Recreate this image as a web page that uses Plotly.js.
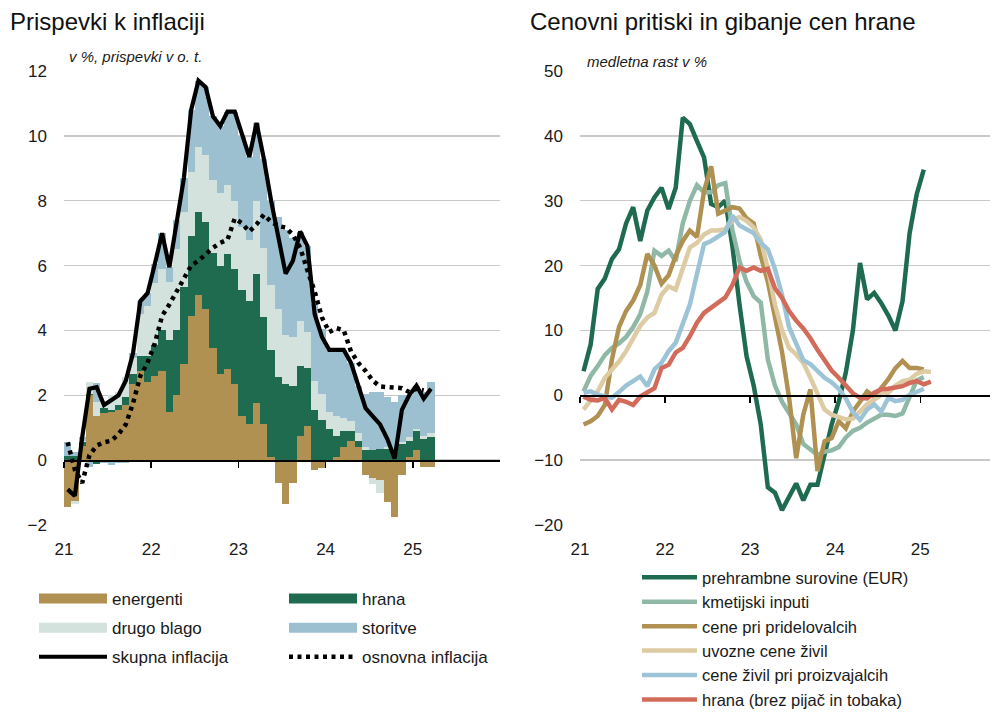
<!DOCTYPE html>
<html><head><meta charset="utf-8">
<script src="https://cdn.plot.ly/plotly-3.0.1.min.js"></script>
<style>html,body{margin:0;padding:0;background:#fff}#chart{width:995px;height:713px}</style>
</head><body><div id="chart"></div>
<script>
// ---------- DATA: left panel (contributions, monthly Jan 2021 - Mar 2025) ----------
const startLeft = '2021-01';
const energenti = [-1.45,-1.25,0.45,2.0,1.35,1.45,1.5,1.55,1.7,2.35, 2.75,2.4,2.6,2.75,1.5,2.0,2.95,4.45,5.1,4.65, 3.45,2.65,2.8,2.35,1.35,1.1,1.75,1.1,0.1,-0.7, -1.35,-0.7,0.75,1.05,-0.3,-0.25,0.0,0.1,0.4,0.6, 0.4,-0.45,-0.55,-0.6,-1.3,-1.75,-0.45,0.1,0.3,-0.2, -0.2];
const hrana = [0.12,0.12,0.1,0.05,-0.12,0.15,0.05,0.15,0.25,0.3, 0.45,0.8,0.95,1.25,2.2,2.0,2.4,2.45,2.55,2.7, 2.95,3.35,3.55,3.55,3.9,3.8,4.0,3.3,3.3,2.55, 2.35,2.3,2.15,1.8,1.55,1.25,0.95,0.65,0.5,0.3, 0.2,0.3,0.3,0.35,0.35,0.25,0.5,0.5,0.6,0.65, 0.7];
const drugoBlago = [0.0,-0.1,0.05,0.35,0.45,0.2,0.45,0.4,0.6,0.5, 1.3,1.55,1.9,1.9,1.8,2.5,2.3,2.0,2.0,2.05, 2.25,2.25,2.15,2.1,1.95,1.9,2.25,2.15,2.0,2.1, 1.5,1.5,1.4,1.1,0.9,0.8,0.55,0.6,0.4,0.3, 0.25,0.1,-0.2,-0.4,0.05,0.0,0.05,0.1,0.05,0.1, 0.15];
const storitve = [0.43,0.13,0.1,-0.2,0.57,-0.1,-0.15,-0.1,-0.1,0.15, 0.4,0.4,0.6,1.1,0.45,0.9,1.05,1.9,2.05,2.1, 1.95,2.05,2.25,2.75,2.8,2.55,2.4,2.75,2.6,2.85, 3.25,3.05,2.75,2.65,2.35,2.0,1.9,2.05,2.1,1.8, 1.45,1.65,1.8,1.75,1.55,1.55,1.45,1.3,1.35,1.35, 1.55];
const skupnaInflacija = [-0.9,-1.1,0.7,2.2,2.25,1.7,1.85,2.0,2.45,3.3, 4.9,5.15,6.05,7.0,5.95,7.4,8.7,10.8,11.7,11.5, 10.6,10.3,10.75,10.75,10.0,9.35,10.4,9.3,8.0,6.8, 5.75,6.15,7.05,6.6,4.5,3.8,3.4,3.4,3.4,3.0, 2.3,1.6,1.35,1.1,0.65,0.05,1.55,2.0,2.3,1.9, 2.2];
const osnovnaInflacija = [0.55,-0.3,-0.7,0.15,0.45,0.55,0.6,0.8,1.1,1.75, 2.6,3.0,3.6,4.45,4.8,5.2,5.6,6.0,6.15,6.35, 6.55,6.7,6.8,7.45,7.3,7.05,7.27,7.57,7.35,7.22, 7.17,6.95,6.55,5.85,5.2,4.4,3.95,4.07,4.0,3.35, 3.0,2.75,2.45,2.27,2.25,2.25,2.22,2.1,2.2,2.15];

// ---------- DATA: right panel (annual growth, monthly from Jan 2021) ----------
const startRight = '2021-01';
const prehrambneSurovine = [3.7,7.8,16.4,18,21,22.5,26.5,29,23.8,28.5, 30.5,32,28.7,32,42.8,41.8,39.2,36.7,29.5,29, 30,23,14,6,1.5,-4.5,-14.2,-15,-17.7,-15.5, -13.6,-16.2,-13.8,-13.8,-9.5,-4.5,-1,3.5,10,20.4, 14.8,15.8,14.2,12.3,10,14.5,25,31,34.8];
const kmetijskiInputi = [0.6,3.0,4.5,6.2,7.3,8.0,9.0,10.5,12.5,16, 22.3,21.5,22.3,20.7,26.5,30.0,32.4,31.3,31.3,32.4, 32.7,25.5,20.7,17.5,15.3,14.3,5.5,1.5,-1.0,-2.7, -4.5,-7.5,-8.4,-9.2,-8.7,-8.5,-8.0,-6.5,-5.5,-5.0, -4.2,-3.5,-3.0,-3.0,-3.2,-2.8,-0.3,2.3,2.8];
const cenePriPridelovalcih = [-4.5,-4.0,-3.2,-1.5,5.5,10.5,13.0,14.6,17.0,21.8, 20.0,17.2,18.5,21.5,23.8,25.4,24.4,31.5,35.3,28.0, 28.5,29.0,28.8,27.3,26.5,21.5,17.5,12.0,6.7,-0.4, -9.7,-3.0,0.9,-11.7,-7.1,-6.6,-4.0,-5.1,-2.5,-1.0, 0.6,-0.2,1.2,2.5,4.2,5.3,4.2,4.2,4.0];
const uvozneCeneZivil = [-2.2,-0.9,0.6,2.7,4.0,5.2,6.8,8.7,10.7,12.0, 12.7,15.5,16.8,16.3,19.8,22.8,23.5,24.8,25.4,25.4, 25.6,27.0,27.5,26.9,25.9,24.0,19.5,14.0,10.0,7.3, 6.3,5.0,2.7,0.2,-2.2,-3.0,-3.3,-3.7,-3.6,-2.5, -1.4,-0.7,0.1,0.4,1.5,2.2,2.4,3.3,3.7,3.6];
const ceneZivilPriProizvajalcih = [0.4,0.6,0.1,-0.2,-0.4,0.5,1.5,2.2,2.9,1.4, 4.0,5.0,6.8,8.1,10.9,14.0,18.7,23.3,23.8,24.6, 25.2,27.7,26.2,25.6,25.0,23.5,22.5,19.5,15.5,10.5, 8.0,5.4,4.8,3.7,2.7,2.0,1.0,-0.5,-2.6,-3.8, -2.2,-1.4,-2.5,-0.4,-0.9,-0.7,0.1,0.5,1.0];
const hranaBrezPijac = [-0.2,-0.7,-0.8,-0.4,-2.2,-0.7,-1.0,-1.5,-0.2,0.4, 1.1,4.2,4.7,6.6,7.3,9.1,11.2,12.7,13.5,14.3, 15.1,17.0,19.7,19.2,19.7,19.2,19.5,16.5,15.0,13.0, 11.5,10.3,8.8,7.0,5.3,3.8,2.7,1.5,0.3,-0.4, -0.5,0.4,0.9,1.0,1.2,1.4,1.9,2.2,1.7,2.1];

const yearTicks = [21, 22, 23, 24, 25];
const yearTickLabels = ['21', '22', '23', '24', '25'];

// month index -> position on a year axis (centre of month)
function monthCentres(start, n) {
  const [y, m] = start.split('-').map(Number);
  const out = [];
  for (let i = 0; i < n; i++) out.push((y - 2000) + (m - 1 + i + 0.5) / 12);
  return out;
}

// ---------- colours ----------
const C = {
  energ: '#b09152', hrana: '#1f6b50', drugo: '#d3e2dd', stor: '#9cc0d0',
  s1: '#1f6b50', s2: '#8fb8a6', s3: '#b09152', s4: '#dccba3', s5: '#9dc4d6', s6: '#d26b5a'
};

// ---------- geometry ----------
const W = 995, H = 713, ML = 64, MR = 5, MT = 71, MB = 188;
const PW = W - ML - MR, PH = H - MT - MB;
const px2x = px => (px - ML) / PW;
const px2y = py => (H - MB - py) / PH;

const xl = monthCentres(startLeft, energenti.length);
const xc = monthCentres(startLeft, osnovnaInflacija.length);
const traces = [];
function bar(name, y, color) {
  traces.push({type: 'bar', x: xl, y: y, width: 1/12, name: name, showlegend: false,
    marker: {color: color, line: {width: 0}}, xaxis: 'x', yaxis: 'y', hoverinfo: 'skip'});
}
bar('energenti', energenti, C.energ);
bar('hrana', hrana, C.hrana);
bar('drugo blago', drugoBlago, C.drugo);
bar('storitve', storitve, C.stor);
// legend swatches for the bar series
function swatch(name, color, lg, grp) {
  traces.push({type: 'scatter', mode: 'lines', x: [null], y: [null], name: name,
    line: {color: color, width: 11}, xaxis: 'x', yaxis: 'y', legend: lg, legendgroup: grp});
}
swatch('energenti', C.energ, 'legend', 'g1');
swatch('hrana', C.hrana, 'legend2', 'g2');
swatch('drugo blago', C.drugo, 'legend', 'g3');
swatch('storitve', C.stor, 'legend2', 'g4');
traces.push({type: 'scatter', mode: 'lines', x: xc, y: osnovnaInflacija, name: 'osnovna inflacija',
  line: {color: '#000', width: 4.5, dash: '4px,4.5px'}, xaxis: 'x', yaxis: 'y',
  legend: 'legend2', legendgroup: 'g6'});
traces.push({type: 'scatter', mode: 'lines', x: xl, y: skupnaInflacija, name: 'skupna inflacija',
  line: {color: '#000', width: 4.2}, xaxis: 'x', yaxis: 'y', legend: 'legend', legendgroup: 'g5'});

// right panel
const rightSeries = [
  ['prehrambne surovine (EUR)', prehrambneSurovine, C.s1],
  ['kmetijski inputi', kmetijskiInputi, C.s2],
  ['cene pri pridelovalcih', cenePriPridelovalcih, C.s3],
  ['uvozne cene živil', uvozneCeneZivil, C.s4],
  ['cene živil pri proizvajalcih', ceneZivilPriProizvajalcih, C.s5],
  ['hrana (brez pijač in tobaka)', hranaBrezPijac, C.s6]
];
rightSeries.forEach((s, i) => {
  traces.push({type: 'scatter', mode: 'lines', x: monthCentres(startRight, s[1].length), y: s[1],
    name: s[0], line: {color: s[2], width: 4.5}, xaxis: 'x2', yaxis: 'y2',
    legend: 'legend3', legendgroup: 'r' + i});
});
// empty traces to activate the zero-line axes
traces.push({type: 'scatter', x: [], y: [], xaxis: 'x3', yaxis: 'y', showlegend: false});
traces.push({type: 'scatter', x: [], y: [], xaxis: 'x4', yaxis: 'y2', showlegend: false});

const FONT = 'Liberation Sans, Arial, sans-serif';
const tickFont = {family: FONT, size: 17, color: '#1a1a1a'};
const gridC = '#c9c9c9';

const leftDom = [0, px2x(500)];
const rightDom = [px2x(580), 1];

const baseX = {tickvals: yearTicks, ticktext: yearTickLabels, ticks: '', showgrid: false,
  zeroline: false, showline: false, tickfont: tickFont, ticklabelstandoff: 12, fixedrange: true};
const zeroX = {tickvals: yearTicks, ticks: 'outside', ticklen: 6, tickwidth: 1.5, tickcolor: '#000',
  showticklabels: false, showgrid: false, zeroline: false, showline: true, linecolor: '#000',
  linewidth: 1.5, anchor: 'free', fixedrange: true};

const legBase = {xanchor: 'left', yanchor: 'top', bgcolor: 'rgba(0,0,0,0)', borderwidth: 0,
  font: {family: FONT, size: 17, color: '#1a1a1a'}, traceorder: 'grouped', orientation: 'v'};

const layout = {
  width: W, height: H, margin: {l: ML, r: MR, t: MT, b: MB, autoexpand: false},
  paper_bgcolor: '#fff', plot_bgcolor: '#fff',
  barmode: 'relative', bargap: 0,
  font: {family: FONT, color: '#1a1a1a'},
  xaxis: Object.assign({}, baseX, {domain: leftDom, range: [21, 26], anchor: 'y'}),
  xaxis2: Object.assign({}, baseX, {domain: rightDom, range: [21, 25.82], anchor: 'y2'}),
  xaxis3: Object.assign({}, zeroX, {overlaying: 'x', range: [21, 26], position: 2 / 14}),
  xaxis4: Object.assign({}, zeroX, {overlaying: 'x2', range: [21, 25.82], position: 20 / 70}),
  yaxis: {domain: [0, 1], range: [-2, 12], tickvals: [-2, 0, 2, 4, 6, 8, 10, 12], showgrid: true,
    gridcolor: gridC, gridwidth: 1.5, zeroline: false, showline: false, ticks: '',
    tickfont: tickFont, ticklabelstandoff: 16, anchor: 'x', fixedrange: true},
  yaxis2: {domain: [0, 1], range: [-20, 50], tickvals: [-20, -10, 0, 10, 20, 30, 40, 50], showgrid: true,
    gridcolor: gridC, gridwidth: 1.5, zeroline: false, showline: false, ticks: '',
    tickfont: tickFont, ticklabelstandoff: 16, anchor: 'x2', fixedrange: true},
  legend: Object.assign({}, legBase, {x: px2x(34), y: px2y(581), itemwidth: 68, tracegroupgap: 4}),
  legend2: Object.assign({}, legBase, {x: px2x(284), y: px2y(581), itemwidth: 68, tracegroupgap: 4}),
  legend3: Object.assign({}, legBase, {x: px2x(637), y: px2y(560), itemwidth: 55, tracegroupgap: 0,
    font: {family: FONT, size: 16.5, color: '#1a1a1a'}}),
  showlegend: true,
  annotations: [
    {text: 'Prispevki k inflaciji', xref: 'paper', yref: 'paper', x: px2x(8), y: px2y(22),
      xanchor: 'left', yanchor: 'middle', showarrow: false, font: {family: FONT, size: 24, color: '#111'}},
    {text: 'Cenovni pritiski in gibanje cen hrane', xref: 'paper', yref: 'paper', x: px2x(528), y: px2y(22),
      xanchor: 'left', yanchor: 'middle', showarrow: false, font: {family: FONT, size: 24, color: '#111'}},
    {text: 'v %, prispevki v o. t.', xref: 'paper', yref: 'paper', x: px2x(67), y: px2y(57),
      xanchor: 'left', yanchor: 'middle', showarrow: false,
      font: {family: FONT, size: 15, color: '#1a1a1a', style: 'italic'}},
    {text: 'medletna rast v %', xref: 'paper', yref: 'paper', x: px2x(585), y: px2y(61),
      xanchor: 'left', yanchor: 'middle', showarrow: false,
      font: {family: FONT, size: 15, color: '#1a1a1a', style: 'italic'}}
  ]
};

Plotly.newPlot('chart', traces, layout, {staticPlot: true, displayModeBar: false});
</script>
</body></html>
